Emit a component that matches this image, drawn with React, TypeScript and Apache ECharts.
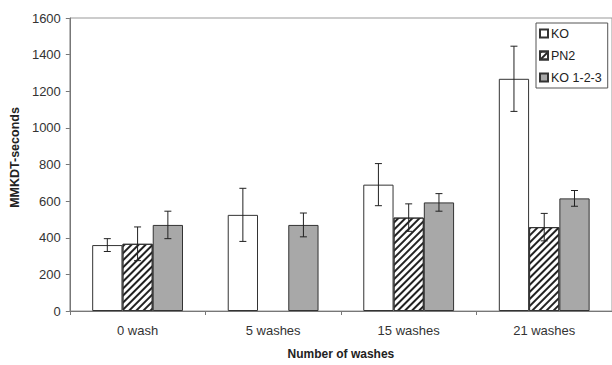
import React, { useEffect, useRef } from "react";
import * as echarts from "echarts";

const categories = ["0 wash", "5 washes", "15 washes", "21 washes"];
const seriesNames = ["KO", "PN2", "KO 1-2-3"];
const koValues = [360, 525, 690, 1268];
const koErrors = [35, 145, 115, 178];
const pn2Values: (number | null)[] = [367, null, 510, 458];
const pn2Errors: (number | null)[] = [92, null, 75, 75];
const ko123Values = [470, 470, 593, 615];
const ko123Errors = [75, 65, 48, 43];
const yTicks = { min: 0, max: 1600, interval: 200 };

const FONT = "'Liberation Sans', Arial, sans-serif";
const BAR_CATEGORY_GAP = 0.33;

export default function App() {
  const ref = useRef<HTMLDivElement>(null);
  useEffect(() => {
    if (!ref.current) return;
    const chart = echarts.init(ref.current, undefined, { renderer: "svg" });
    const errData: any[] = [];
    const vals = [koValues, pn2Values, ko123Values];
    const errs = [koErrors, pn2Errors, ko123Errors];
    vals.forEach((arr, s) => {
      arr.forEach((v, i) => {
        const e = errs[s][i];
        if (v != null && e != null) errData.push([i, v, e, s]);
      });
    });
    const barStyle = { borderColor: "#333", borderWidth: 1 };
    chart.setOption({
      animation: false,
      backgroundColor: "#fff",
      textStyle: { fontFamily: FONT },
      grid: { left: 67, right: -1, top: 18, bottom: 49, show: true, borderColor: "#999", borderWidth: 1 },
      legend: {
        orient: "vertical",
        left: 536,
        top: 23,
        padding: [4, 6, 4, 3],
        itemGap: 9,
        itemWidth: 8,
        itemHeight: 8,
        icon: "rect",
        borderColor: "#555",
        borderWidth: 1,
        backgroundColor: "#fff",
        data: seriesNames,
        textStyle: { fontFamily: FONT, fontSize: 12.5, color: "#222", padding: [0, 0, 0, -2] },
      },
      xAxis: {
        type: "category",
        data: categories,
        name: "Number of washes",
        nameLocation: "middle",
        nameGap: 37,
        nameTextStyle: { fontFamily: FONT, fontSize: 12, fontWeight: "bold", color: "#222" },
        axisLine: { lineStyle: { color: "#777", width: 1 } },
        axisTick: { show: true, alignWithLabel: false, interval: 0, length: 4, lineStyle: { color: "#777" } },
        axisLabel: { fontFamily: FONT, fontSize: 13, color: "#333", margin: 13 },
      },
      yAxis: {
        type: "value",
        min: yTicks.min,
        max: yTicks.max,
        interval: yTicks.interval,
        name: "MMKDT-seconds",
        nameLocation: "middle",
        nameGap: 47,
        nameTextStyle: { fontFamily: FONT, fontSize: 12.5, fontWeight: "bold", color: "#222", padding: [0, 0, 0, 14] },
        axisLine: { show: true, lineStyle: { color: "#777", width: 1 } },
        axisTick: { show: true, length: 4, lineStyle: { color: "#777" } },
        splitLine: { show: false },
        axisLabel: { fontFamily: FONT, fontSize: 13, color: "#333", margin: 9, formatter: (v: number) => String(v) },
      },
      series: [
        {
          name: "KO",
          type: "bar",
          data: koValues,
          barGap: "0%",
          barCategoryGap: BAR_CATEGORY_GAP * 100 + "%",
          itemStyle: { color: "#fff", ...barStyle },
        },
        {
          name: "PN2",
          type: "bar",
          data: pn2Values.map((v) => (v == null ? "-" : v)),
          barGap: "0%",
          barCategoryGap: BAR_CATEGORY_GAP * 100 + "%",
          itemStyle: {
            color: "#fff",
            ...barStyle,
            decal: {
              symbol: "rect",
              symbolSize: 1,
              symbolKeepAspect: false,
              color: "#222",
              backgroundColor: "#fff",
              dashArrayX: [1, 0],
              dashArrayY: [1.1, 2.3],
              rotation: -Math.PI / 4,
            },
          },
        },
        {
          name: "KO 1-2-3",
          type: "bar",
          data: ko123Values,
          barGap: "0%",
          barCategoryGap: BAR_CATEGORY_GAP * 100 + "%",
          itemStyle: { color: "#a8a8a8", ...barStyle },
        },
        {
          type: "custom",
          z: 10,
          data: errData,
          encode: { x: 0, y: 1 },
          renderItem: (params: any, api: any) => {
            const ci = api.value(0);
            const v = api.value(1);
            const e = api.value(2);
            const s = api.value(3);
            const band = api.size([1, 0])[0];
            const barW = (band * (1 - BAR_CATEGORY_GAP)) / 3;
            const c = api.coord([ci, v]);
            const cx = c[0] + (s - 1) * barW;
            const top = api.coord([ci, v + e])[1];
            const bot = api.coord([ci, v - e])[1];
            const cap = 3.5;
            const style = { stroke: "#222", lineWidth: 1 };
            return {
              type: "group",
              children: [
                { type: "line", shape: { x1: cx, y1: top, x2: cx, y2: bot }, style },
                { type: "line", shape: { x1: cx - cap, y1: top, x2: cx + cap, y2: top }, style },
                { type: "line", shape: { x1: cx - cap, y1: bot, x2: cx + cap, y2: bot }, style },
              ],
            };
          },
        },
      ],
    });
    return () => chart.dispose();
  }, []);
  return <div ref={ref} style={{ width: 612, height: 365, position: "absolute", left: 0, top: 0 }} />;
}
